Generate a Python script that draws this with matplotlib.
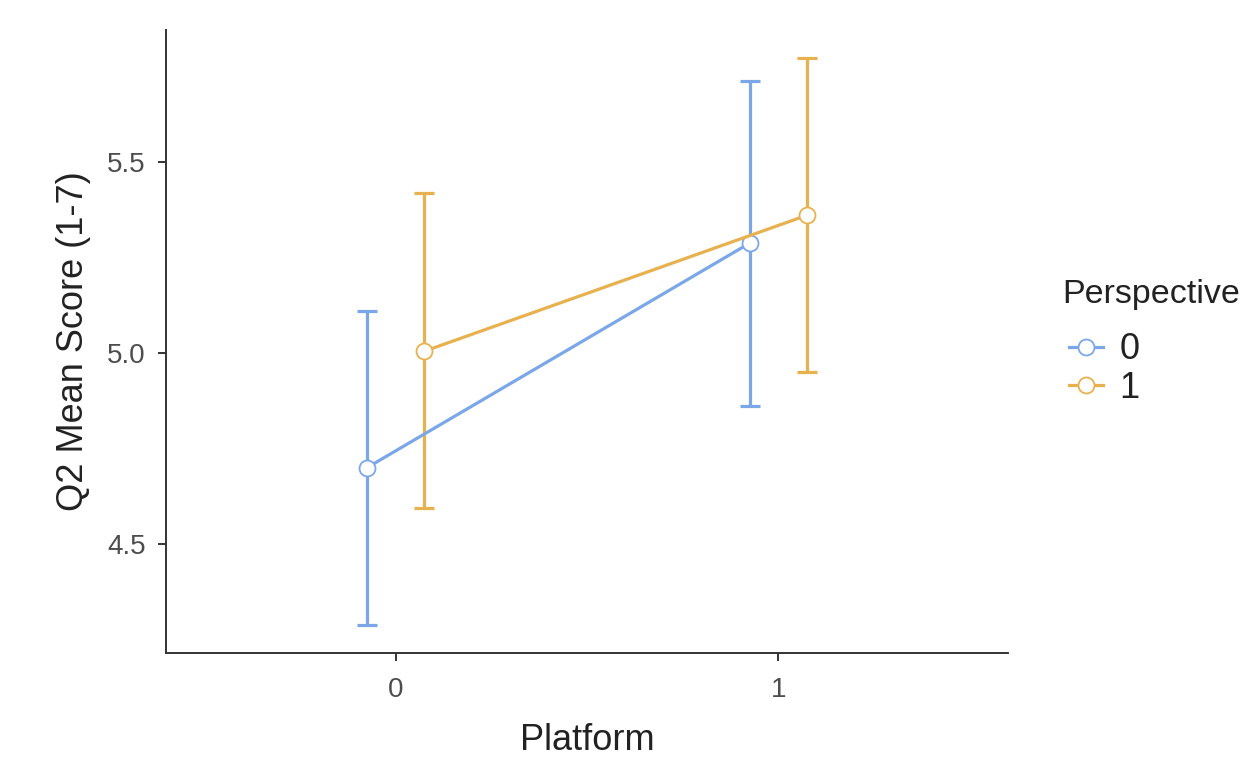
import matplotlib
matplotlib.use("Agg")
import matplotlib.pyplot as plt
import numpy as np

plt.rcParams['font.family'] = ['Liberation Sans', 'DejaVu Sans']

platform = [0, 1]
groups = ["0", "1"]
means = {"0": [4.70, 5.288], "1": [5.005, 5.361]}
lower = {"0": [4.288, 4.861], "1": [4.594, 4.950]}
upper = {"0": [5.110, 5.712], "1": [5.419, 5.772]}
colors = {"0": "#7BA7E8", "1": "#E8B14F"}
dodge = {"0": -0.075, "1": 0.075}

fig = plt.figure(figsize=(12.48, 7.57), dpi=100)
ax = fig.add_axes([0.133, 0.1374, 0.6747, 0.823])

handles = []
for g in groups:
    x = np.array(platform) + dodge[g]
    m = np.array(means[g])
    lo = m - np.array(lower[g])
    hi = np.array(upper[g]) - m
    ax.errorbar(x, m, yerr=[lo, hi], fmt='none', ecolor=colors[g],
                elinewidth=2.3, capsize=7.5, capthick=2.3, zorder=2)
    h, = ax.plot(x, m, color=colors[g], lw=2.3, marker='o', markersize=11.5,
                 markerfacecolor='white', markeredgecolor=colors[g],
                 markeredgewidth=1.3, zorder=3, label=g)
    handles.append(h)

ax.set_xlim(-0.6, 1.6)
ax.set_ylim(4.215, 5.846)
ax.set_xticks(platform)
ax.set_xticklabels([str(p) for p in platform])
ax.set_yticks([4.5, 5.0, 5.5])
ax.set_yticklabels(["4.5", "5.0", "5.5"])

for s in ['top', 'right']:
    ax.spines[s].set_visible(False)
for s in ['left', 'bottom']:
    ax.spines[s].set_color('#333333')
    ax.spines[s].set_linewidth(1.4)
ax.tick_params(axis='both', direction='out', length=5.5, width=1.4,
               color='#333333', labelsize=20, labelcolor='#4D4D4D')
ax.tick_params(axis='x', pad=12)
ax.tick_params(axis='y', pad=9)

ax.set_xlabel("Platform", fontsize=26, color='#222222', labelpad=14)
ax.set_ylabel("Q2 Mean Score (1-7)", fontsize=26, color='#222222', labelpad=12)

fig.text(1062 / 1248, 1 - 295 / 757, "Perspective", fontsize=24.5,
         color='#222222', ha='left', va='center')

leg = fig.legend(handles=handles, labels=groups,
                 loc='center left', bbox_to_anchor=(1051 / 1248, 1 - 369 / 757),
                 frameon=False, fontsize=26, borderpad=0,
                 handlelength=0.95, handletextpad=0.45, labelspacing=0.1)
for t in leg.get_texts():
    t.set_color('#222222')
for lh in leg.legend_handles:
    lh.set_markersize(11.5)

fig.savefig("out.png", dpi=100)
